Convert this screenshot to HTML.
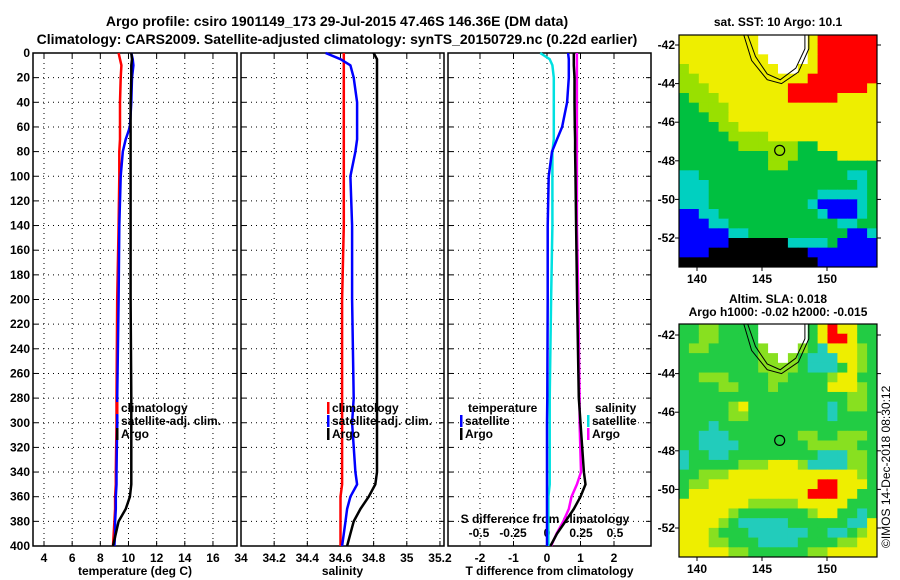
<!DOCTYPE html>
<html><head><meta charset="utf-8"><style>
body{margin:0;background:#fff}
svg{display:block;font-family:"Liberation Sans",sans-serif;font-weight:bold}
</style></head><body>
<svg id="s" width="900" height="580" xmlns="http://www.w3.org/2000/svg">
<text x="337" y="26" font-size="14" text-anchor="middle">Argo profile: csiro 1901149_173 29-Jul-2015 47.46S 146.36E (DM data)</text>
<text x="337" y="44" font-size="14" text-anchor="middle">Climatology: CARS2009. Satellite-adjusted climatology: synTS_20150729.nc (0.22d earlier)</text>
<text x="778" y="26" font-size="12" text-anchor="middle">sat. SST: 10 Argo: 10.1</text>
<text x="778" y="303" font-size="12" text-anchor="middle">Altim. SLA: 0.018</text>
<text x="778" y="316" font-size="12" text-anchor="middle">Argo h1000: -0.02 h2000: -0.015</text>
<text transform="translate(890,548) rotate(-90)" font-size="12" font-weight="normal">©IMOS 14-Dec-2018 08:30:12</text>
</svg>
<script>
const depths=[0,5,10,20,40,60,70,80,100,140,200,280,300,340,350,360,370,380,390,400];
const tempClim=[9.3,9.4,9.5,9.45,9.4,9.4,9.4,9.35,9.35,9.3,9.2,9.15,9.15,9.1,9.1,9.05,9.05,9.0,8.95,8.9];
const tempSat=[10.2,10.3,10.35,10.25,10.2,10.1,9.8,9.6,9.45,9.35,9.3,9.2,9.2,9.15,9.15,9.1,9.1,9.05,9.05,9.0];
const tempArgo=[10.2,10.25,10.2,10.2,10.15,10.15,10.15,10.15,10.15,10.15,10.15,10.2,10.2,10.2,10.2,10.1,9.8,9.3,9.1,8.9];
const salClim=[34.62,34.62,34.62,34.62,34.62,34.62,34.62,34.62,34.62,34.62,34.61,34.61,34.61,34.61,34.61,34.6,34.6,34.6,34.6,34.6];
const salSat=[34.51,34.6,34.66,34.68,34.7,34.7,34.7,34.69,34.66,34.67,34.67,34.68,34.67,34.69,34.7,34.66,34.64,34.63,34.62,34.61];
const salArgo=[34.8,34.82,34.82,34.82,34.82,34.82,34.82,34.82,34.82,34.82,34.82,34.82,34.82,34.82,34.81,34.77,34.72,34.68,34.66,34.64];
const tDiffSat=[0.63,0.65,0.65,0.65,0.6,0.45,0.3,0.15,0.05,0.02,0.02,0.01,0.0,0.0,0.0,0.0,0.0,0.0,0.0,0.0];
const tDiffArgo=[0.8,0.8,0.8,0.82,0.82,0.83,0.84,0.84,0.85,0.87,0.9,0.95,1.0,1.1,1.15,1.0,0.8,0.55,0.3,0.1];
const sDiffSat=[-0.05,0.02,0.04,0.05,0.05,0.05,0.05,0.04,0.04,0.04,0.03,0.02,0.02,0.02,0.02,0.01,0.01,0.01,0.01,0.01];
const sDiffArgo=[0.22,0.22,0.22,0.22,0.22,0.22,0.22,0.22,0.22,0.22,0.23,0.24,0.24,0.25,0.22,0.18,0.16,0.12,0.07,0.03];
const depthTicks=[0,20,40,60,80,100,120,140,160,180,200,220,240,260,280,300,320,340,360,380,400];
const tempTicks=[4,6,8,10,12,14,16];
const salTicks=[34,34.2,34.4,34.6,34.8,35,35.2];
const tdTicks=[-2,-1,0,1,2];
const sdTicks=[-0.5,-0.25,0,0.25,0.5];
const sdTickLabels=["-0.5","-0.25","0","0.25","0.5"];
const latTicks=[-42,-44,-46,-48,-50,-52];
const lonTicks=[140,145,150];
const sstGrid=[
"YYYYYYYYWWWWWYRRRRRR","YYYYYYYYWWWWWYRRRRRR","YYYYYYYYYWWWWYRRRRRR","LYYYYYYYYYWWYYRRRRRR",
"LLYYYYYYYYYYYRRRRRRR","LLLYYYYYYYYRRRRRRRRY","GLLLYYYYYYYRRRRRYYYY","GGLLLYYYYYYYYYYYYYYY",
"GGGLLYYYYYYYYYYYYYYY","GGGGLLYYYYYYYYYYYYYY","GGGGGLLLLYYYYYYYYYYY","GGGGGGLLLLLLGGYYYYYY",
"GGGGGGGGGLLLGGGGYYYY","GGGGGGGGGLLGGGGGGGGG","CCGGGGGGGGGGGGGGGCCG","CCCGGGGGGGGGGGGGGGCG",
"CCCGGGGGGGGGGGCCCCCG","CCCGGGGGGGGGGCBBBBCG","BBCCGGGGGGGGGGCBBBCG","BBBCCGGGGGGGGGGGCCGG",
"BBBBBCCGGGGGGGGGGBBC","BBBBBKKKKKKCCCCGBBBB","BBBKKKKKKKKKKBBBBBBB","KKKKKKKKKKKKKKBBBBBB"];
const slaGrid=[
"GGLLGGGGWWWWWGYRYYGG","GGLLGGGGWWWWWGYRRYGG","GLLGGGGGLWWWLGCYYYLG","GGGGGGGGLLWLGCCCYYLG",
"GGGGGGGGLLLLGCCCGYLG","GGLLLGGGGLLGGGGLYYGG","GGGGLLGGGLGGGGGYYYLG","GGGGGGGGGGGGGGGGGLLG",
"GGGGGLYGGGGGGGGCGLLG","GGGGGLLGGGGGGGGCGGGG","GGGCGGGGGGGGGGGGGGGG","GGCCCGGGGGGGLLGGLLLG",
"GGCCCCGGGGGGGLLLLLGG","CGGCCGGGGGGGGGCCCLLG","CGGGGGLLLYYYLCCCCLLG","GGLLLYYYYYYYYYYYYYLG",
"GLLYYYYYYYYYYYRRYYYG","GYYYYYYYYYYYYRRRYYGG","YYYYYYYLLLLLYYYYYGGG","YYYYYLGGGGGGGLYYGGCG",
"YYYYLGCCCCCGGGGGGCCY","YYYLGGGCCCCCCGGCCGLY","YYYLLGGGCCCCGGGGLLYY","YYYYYLLGGGGGGLLYYYYY"];

const svg=document.getElementById('s');
const NS='http://www.w3.org/2000/svg';
function mk(tag,attrs,parent){const e=document.createElementNS(NS,tag);for(const k in attrs)e.setAttribute(k,attrs[k]);(parent||svg).appendChild(e);return e;}
const Y0=53,Y1=546;
const yS=d=>Y0+d*(Y1-Y0)/400;
const panels=[
 {x0:33,x1:237,sx:v=>44+(v-4)*14.08,ticks:tempTicks,labels:tempTicks.map(String),title:"temperature (deg C)",name:"temperature-panel"},
 {x0:241,x1:444,sx:v=>241+(v-34)*165.8,ticks:salTicks,labels:salTicks.map(String),title:"salinity",name:"salinity-panel"},
 {x0:448,x1:651,sx:v=>547+v*33.5,ticks:tdTicks,labels:tdTicks.map(String),title:"T difference from climatology",name:"difference-panel"}
];
const sdx=v=>547+v*136;
panels.forEach((p,pi)=>{
 const g=mk('g',{});
 
 
 mk('rect',{x:p.x0,y:Y0,width:p.x1-p.x0,height:Y1-Y0,fill:'#fff',stroke:'#000','stroke-width':1.5},g);
 depthTicks.forEach(d=>{
  if(d>0&&d<400){const l=mk('line',{x1:p.x0,x2:p.x1,y1:yS(d),y2:yS(d),stroke:'#000','stroke-width':1,'stroke-dasharray':'1,4'},g);
   }
  mk('line',{x1:p.x0,x2:p.x0+5,y1:yS(d),y2:yS(d),stroke:'#000'},g);
  mk('line',{x1:p.x1-5,x2:p.x1,y1:yS(d),y2:yS(d),stroke:'#000'},g);
  if(pi===0){const t=mk('text',{x:p.x0-3,y:yS(d)+4,'font-size':12,'text-anchor':'end'},g);t.textContent=d;
   }
 });
 p.ticks.forEach((v,i)=>{
  const x=p.sx(v);
  const gl=mk('line',{x1:x,x2:x,y1:Y0,y2:Y1,stroke:'#000','stroke-width':1,'stroke-dasharray':'1,4'},g);
  
  mk('line',{x1:x,x2:x,y1:Y1-5,y2:Y1,stroke:'#000'},g);
  mk('line',{x1:x,x2:x,y1:Y0,y2:Y0+5,stroke:'#000'},g);
  const t=mk('text',{x:x,y:Y1+16,'font-size':12,'text-anchor':'middle'},g);t.textContent=p.labels[i];
  
 });
 const tt=mk('text',{x:(p.x0+p.x1)/2,y:575,'font-size':12,'text-anchor':'middle'},g);tt.textContent=p.title;
 
});
sdTicks.forEach((v,i)=>{
 const t=mk('text',{x:sdx(v),y:537,'font-size':12,'text-anchor':'middle'});t.textContent=sdTickLabels[i];
 
});
const st=mk('text',{x:545,y:523,'font-size':12,'text-anchor':'middle'});st.textContent='S difference from climatology';


function line(vals,sx,color,name){
 const pts=vals.map((v,i)=>sx(v).toFixed(1)+','+yS(depths[i]).toFixed(1)).join(' ');
 const e=mk('polyline',{points:pts,fill:'none',stroke:color,'stroke-width':2.5,'stroke-linejoin':'round'});
 
 
}
line(tempClim,panels[0].sx,'#ff0000','temp-climatology-line');
line(tempSat,panels[0].sx,'#0000ff','temp-satellite-line');
line(tempArgo,panels[0].sx,'#000','temp-argo-line');
line(salClim,panels[1].sx,'#ff0000','sal-climatology-line');
line(salSat,panels[1].sx,'#0000ff','sal-satellite-line');
line(salArgo,panels[1].sx,'#000','sal-argo-line');
line(sDiffSat,sdx,'#00e0e0','s-diff-satellite-line');
line(tDiffSat,panels[2].sx,'#0000ff','t-diff-satellite-line');
line(sDiffArgo,sdx,'#ff00ff','s-diff-argo-line');
line(tDiffArgo,panels[2].sx,'#000','t-diff-argo-line');

function legend(x,y,color,label,name){
 const g=mk('g',{});
 
 
 if(color)mk('rect',{x:x,y:y-10,width:2.5,height:12,fill:color},g);
 const t=mk('text',{x:x+5,y:y,'font-size':12},g);t.textContent=label;
}
legend(116,412,'#ff0000','climatology','legend-temp-climatology');
legend(116,425,'#0000ff','satellite-adj. clim.','legend-temp-satellite');
legend(116,438,'#000','Argo','legend-temp-argo');
legend(327,412,'#ff0000','climatology','legend-sal-climatology');
legend(327,425,'#0000ff','satellite-adj. clim.','legend-sal-satellite');
legend(327,438,'#000','Argo','legend-sal-argo');
legend(463,412,null,'temperature','legend-temperature-header');
legend(460,425,'#0000ff','satellite','legend-t-satellite');
legend(460,438,'#000','Argo','legend-t-argo');
legend(590,412,null,'salinity','legend-salinity-header');
legend(587,425,'#00e0e0','satellite','legend-s-satellite');
legend(587,438,'#ff00ff','Argo','legend-s-argo');

const sstCol={Y:'#eeee00',R:'#ff0000',L:'#99e000',G:'#00c040',C:'#00d0c0',B:'#0000ff',K:'#000',W:'#fff'};
const slaCol={Y:'#eeee00',R:'#ff0000',L:'#88e020',G:'#22cc44',C:'#22ccbb',B:'#0000ff',K:'#000',W:'#fff'};
function map(grid,cols,top,bot,lat42,name){
 const X0=679,X1=877;
 const g=mk('g',{});
 
 
 const nr=grid.length,nc=grid[0].length,cw=(X1-X0)/nc,ch=(bot-top)/nr;
 grid.forEach((row,r)=>{for(let c=0;c<nc;c++){
  const cell=mk('rect',{x:X0+c*cw,y:top+r*ch,width:cw+0.5,height:ch+0.5,fill:cols[row[c]]},g);
  
  
 }});
 const lx=v=>697+(v-140)*13, ly=v=>lat42+(-42-v)*19.3;
 mk('path',{d:`M${lx(143.9)},${top} L${lx(144.5)},${ly(-42.6)} L${lx(145.4)},${ly(-43.5)} L${lx(146.4)},${ly(-43.8)} L${lx(147.6)},${ly(-43.2)} L${lx(148.3)},${ly(-42.2)} L${lx(148.3)},${top}`,fill:'none',stroke:'#000','stroke-width':1},g);
 mk('path',{d:`M${lx(143.6)},${top} L${lx(144.2)},${ly(-42.8)} L${lx(145.4)},${ly(-43.8)} L${lx(146.5)},${ly(-44)} L${lx(147.8)},${ly(-43.4)} L${lx(148.6)},${ly(-42.2)} L${lx(148.6)},${top}`,fill:'none',stroke:'#000','stroke-width':1},g);
 const m=mk('circle',{cx:lx(146.36),cy:ly(-47.46),r:5,fill:'none',stroke:'#000','stroke-width':1.2},g);
 
 mk('rect',{x:X0,y:top,width:X1-X0,height:bot-top,fill:'none',stroke:'#000','stroke-width':1.2},g);
 latTicks.forEach(v=>{const y=ly(v);
  mk('line',{x1:X0-4,x2:X0,y1:y,y2:y,stroke:'#000'},g);mk('line',{x1:X1,x2:X1+4,y1:y,y2:y,stroke:'#000'},g);
  const t=mk('text',{x:X0-4,y:y+4,'font-size':12,'text-anchor':'end'},g);t.textContent=v;
  });
 lonTicks.forEach(v=>{const x=lx(v);
  mk('line',{x1:x,x2:x,y1:bot,y2:bot+4,stroke:'#000'},g);
  const t=mk('text',{x:x,y:bot+16,'font-size':12,'text-anchor':'middle'},g);t.textContent=v;
  });
}
map(sstGrid,sstCol,35,267,45,'sst-map');
map(slaGrid,slaCol,324,557,335,'sla-map');
</script>
</body></html>
